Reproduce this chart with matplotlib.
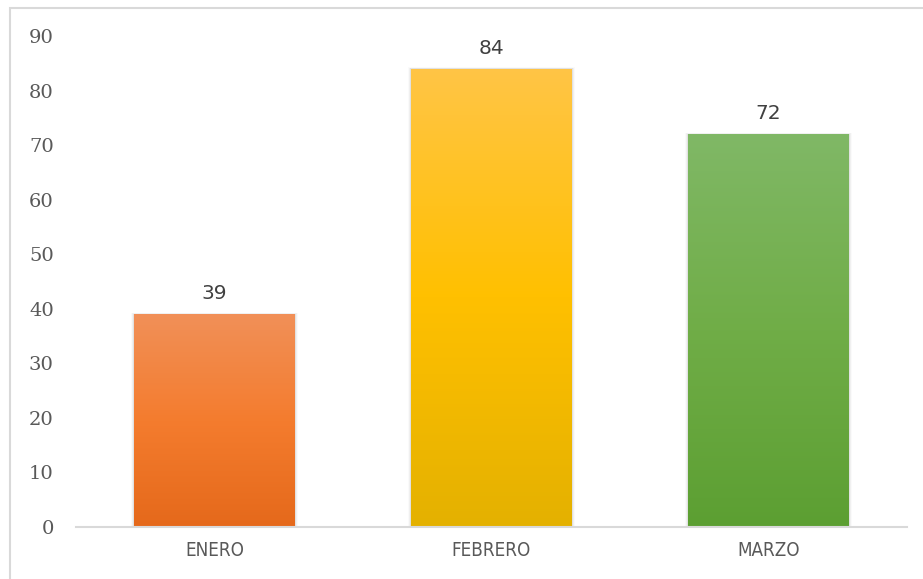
import numpy as np
import matplotlib
matplotlib.use("Agg")
import matplotlib.pyplot as plt
from matplotlib.colors import LinearSegmentedColormap
from matplotlib.patches import Rectangle

months = ["ENERO", "FEBRERO", "MARZO"]
values = [39, 84, 72]
yticks = [0, 10, 20, 30, 40, 50, 60, 70, 80, 90]

# top -> middle -> bottom colour of each bar gradient
gradients = [
  ["#f19058", "#f47c2e", "#e5691b"],
  ["#ffc546", "#ffc000", "#e4b100"],
  ["#80b866", "#70ad47", "#5c9f32"],
]

fig = plt.figure(figsize=(9.23, 5.79), dpi=100)
fig.patches.append(Rectangle((10/923, -0.05), 1.2, (579-8)/579 + 0.05,
                             transform=fig.transFigure, fill=False,
                             edgecolor="#d9d9d9", linewidth=1.5))
ax = fig.add_axes([76/923, 52/579, 831/923, 491/579])

bars = ax.bar(range(len(months)), values, width=0.58, color="none", zorder=3)
for i, (bar, cols) in enumerate(zip(bars, gradients)):
  x0, w, h = bar.get_x(), bar.get_width(), bar.get_height()
  # soft shadow
  for k, a in enumerate([0.06, 0.04, 0.02]):
    d = 0.004 * (k + 1)
    ax.add_patch(Rectangle((x0 - d, -0.2), w + 2*d, h + 0.2 + d*20,
                           facecolor="black", alpha=a, edgecolor="none", zorder=2))
  cmap = LinearSegmentedColormap.from_list(f"g{i}", cols[::-1])
  grad = np.linspace(0, 1, 256).reshape(-1, 1)
  im = ax.imshow(grad, cmap=cmap, origin="lower", aspect="auto",
                 extent=(x0, x0 + w, 0, h), zorder=3)
  im.set_clip_path(bar)
  ax.text(bar.get_x() + w/2, h + 2.0, str(values[i]), ha="center", va="bottom",
          fontsize=14.5, color="#404040", family="DejaVu Sans")

ax.set_xlim(-0.5, 2.5)
ax.set_ylim(0, 90)
ax.set_yticks(yticks)
ax.set_yticklabels([str(t) for t in yticks], family="DejaVu Serif",
                   fontsize=14, color="#595959")
ax.set_xticks(range(len(months)))
ax.set_xticklabels(months, family="DejaVu Sans", fontstretch="condensed",
                   fontsize=13.5, color="#595959")
ax.tick_params(axis="both", length=0)
ax.tick_params(axis="y", pad=16)
ax.tick_params(axis="x", pad=10)
for s in ["top", "right", "left"]:
  ax.spines[s].set_visible(False)
ax.spines["bottom"].set_color("#d9d9d9")
ax.spines["bottom"].set_linewidth(1.5)
ax.spines["bottom"].set_zorder(4)

fig.savefig("out.png", dpi=100)
